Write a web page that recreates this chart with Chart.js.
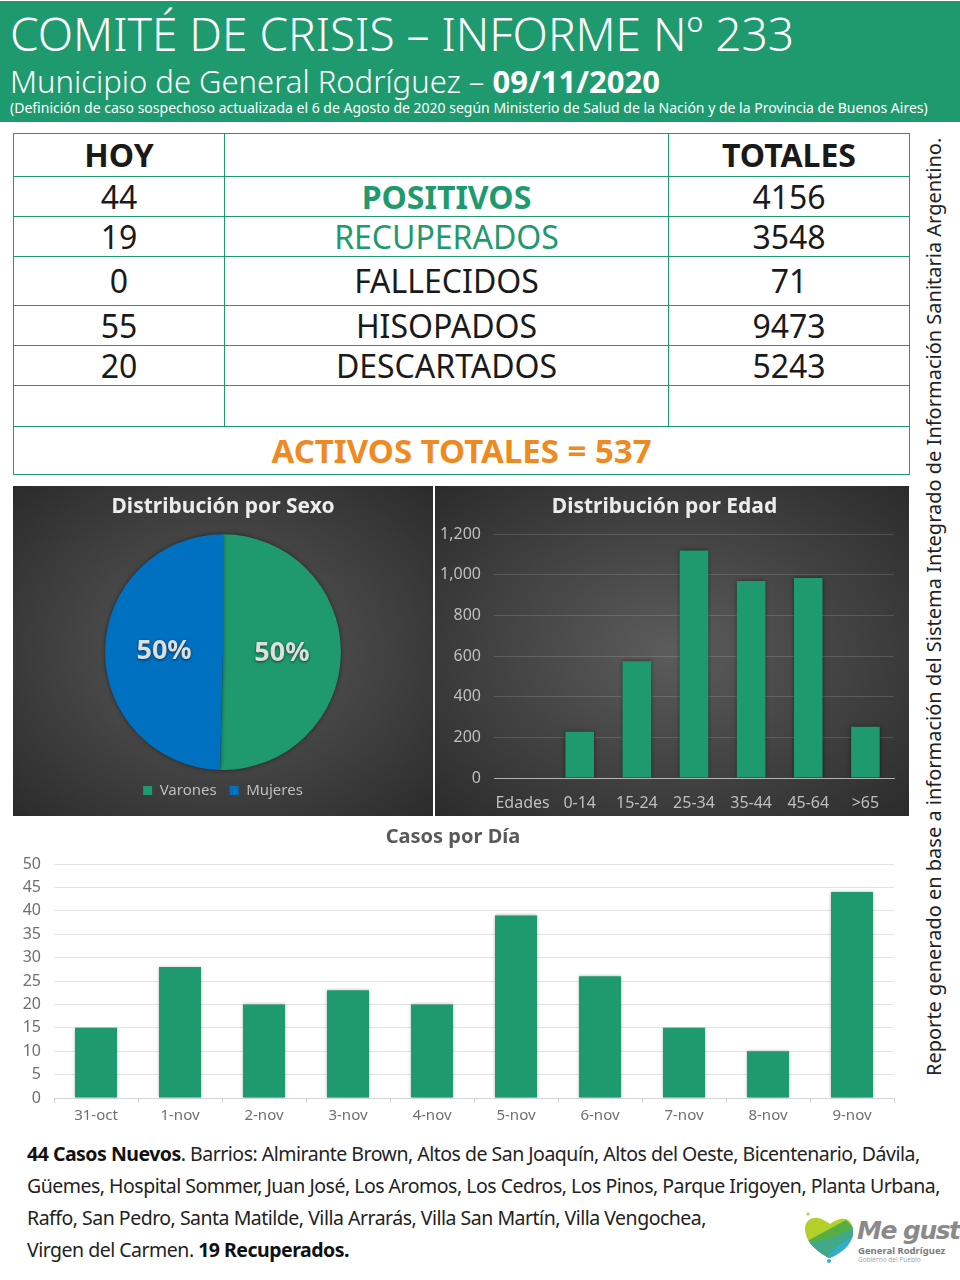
<!DOCTYPE html>
<html lang="es">
<head>
<meta charset="utf-8">
<script src="https://cdn.jsdelivr.net/npm/chart.js@4"></script>
<style>
  html, body { margin: 0; padding: 0; background: #fff; }
  body { position: relative; width: 960px; height: 1280px; overflow: hidden; font-family: "Noto Sans", sans-serif; color: #1a1a1a; }
  .abs { position: absolute; white-space: nowrap; transform-origin: left top; }
  #header { position: absolute; left: 0; top: 1px; width: 960px; height: 121px; background: #1f9a6e; }
  #h1 { left: 10px; top: 2px; font-size: 46px; font-weight: 300; color: #fff; line-height: 62px; }
  #h2 { left: 10px; top: 60px; font-size: 31px; font-weight: 300; color: #fff; line-height: 42px; }
  #h2 b { font-weight: 700; }
  #h3 { left: 10px; top: 98px; font-size: 14px; color: #fff; line-height: 20px; }
  #summary { position: absolute; left: 13px; top: 133px; width: 896px; height: 342px; border-collapse: collapse; table-layout: fixed; }
  #summary td { border: 1px solid #1f9a6e; text-align: center; padding: 0; font-size: 32px; line-height: 30px; color: #1a1a1a; }
  #summary td.head { font-weight: 700; }
  #summary td.pos { font-weight: 700; color: #1f9a6e; }
  #summary td.rec { color: #1f9a6e; }
  #summary td.act { font-weight: 700; color: #ee8a1f; font-size: 33px; }
  canvas { position: absolute; display: block; }
  .panel { background: radial-gradient(ellipse at center, #5c5c5c 0%, #464646 45%, #2b2b2b 100%); }
  #side { position: absolute; left: 921px; top: 150px; height: 926px; line-height: 26px; writing-mode: vertical-rl; transform: rotate(180deg); font-size: 20px; white-space: nowrap; color: #222; }
  #notes div { position: absolute; left: 27px; font-size: 19.5px; line-height: 32px; white-space: nowrap; letter-spacing: -0.5px; color: #222; transform-origin: left top; }
  #notes b { font-weight: 700; color: #111; }
  #logo-title { left: 857px; top: 1216px; font: italic 700 25px "DejaVu Sans", sans-serif; color: #8a8a8a; letter-spacing: -1.5px; }
  #logo-sub { left: 858px; top: 1244px; font-size: 9.5px; font-weight: 700; color: #7a7a7a; }
  #logo-sub2 { left: 858px; top: 1255px; font-size: 6.5px; color: #a5a5a5; }
</style>
</head>
<body>
<div id="header"></div>
<div class="abs" id="h1">COMITÉ DE CRISIS – INFORME Nº 233</div>
<div class="abs" id="h2">Municipio de General Rodríguez – <b>09/11/2020</b></div>
<div class="abs" id="h3">(Definición de caso sospechoso actualizada el 6 de Agosto de 2020 según Ministerio de Salud de la Nación y de la Provincia de Buenos Aires)</div>

<table id="summary"></table>

<canvas id="sexChart" class="panel" width="420" height="330" style="left:13px;top:486px"></canvas>
<canvas id="ageChart" class="panel" width="474" height="330" style="left:435px;top:486px"></canvas>
<canvas id="dayChart" width="898" height="315" style="left:12px;top:820px"></canvas>

<div id="side">Reporte generado en base a información del Sistema Integrado de Información Sanitaria Argentino.</div>

<div id="notes">
  <div style="top:1138px"><b>44 Casos Nuevos</b>. Barrios: Almirante Brown, Altos de San Joaquín, Altos del Oeste, Bicentenario, Dávila,</div>
  <div style="top:1170px">Güemes, Hospital Sommer, Juan José, Los Aromos, Los Cedros, Los Pinos, Parque Irigoyen, Planta Urbana,</div>
  <div style="top:1202px">Raffo, San Pedro, Santa Matilde, Villa Arrarás, Villa San Martín, Villa Vengochea,</div>
  <div style="top:1234px">Virgen del Carmen. <b>19 Recuperados.</b></div>
</div>

<svg style="position:absolute;left:802px;top:1212px" width="54" height="54" viewBox="0 0 54 54">
  <defs>
    <clipPath id="heart"><path d="M27 46 C16 40 3 30 3 17 C3 8 10 5 16 6 C21 7 25 10 28 12 C32 9 38 6 43 7 C49 8 51 14 51 20 C51 32 38 42 27 46 Z"/></clipPath>
  </defs>
  <g clip-path="url(#heart)">
    <rect width="54" height="54" fill="#b5cf2a"/>
    <path d="M0 32 L44 8 L54 18 L54 54 L0 54 Z" fill="#55ae45"/>
    <path d="M0 32 L30 26 L54 14 L54 54 L0 54 Z" fill="#3fa98a"/>
    <path d="M16 54 L36 34 L54 22 L54 54 Z" fill="#2faed0"/>
  </g>
  <circle cx="27" cy="49" r="2" fill="#2faed0"/>
  <circle cx="6" cy="2" r="1.5" fill="#b5cf2a"/>
</svg>
<div class="abs" id="logo-title">Me gusta</div>
<div class="abs" id="logo-sub">General Rodríguez</div>
<div class="abs" id="logo-sub2">Gobierno del Pueblo</div>

<script>
// table rows
const rowHoy = ['HOY', '44', '19', '0', '55', '20', '']
const rowLabels = ['', 'POSITIVOS', 'RECUPERADOS', 'FALLECIDOS', 'HISOPADOS', 'DESCARTADOS', '']
const rowTotales = ['TOTALES', '4156', '3548', '71', '9473', '5243', '']
const activosText = 'ACTIVOS TOTALES = 537'

// charts
const sexLabels = ['Varones', 'Mujeres']
const sexValues = [50.4, 49.6]
const ageLabels = ['Edades', '0-14', '15-24', '25-34', '35-44', '45-64', '>65']
const ageValues = [0, 228, 575, 1120, 970, 985, 252]
const dayLabels = ['31-oct', '1-nov', '2-nov', '3-nov', '4-nov', '5-nov', '6-nov', '7-nov', '8-nov', '9-nov']
const dayValues = [15, 28, 20, 23, 20, 39, 26, 15, 10, 44]

const GREEN = '#1f9a6e'
const BLUE = '#0070c0'
const FONT = '"Noto Sans", sans-serif'

const rowHeights = [43, 40, 40, 49, 40, 40, 41, 48]
const table = document.getElementById('summary')
const colgroup = document.createElement('colgroup')
;[211, 444, 241].forEach(w => {
  const col = document.createElement('col')
  col.style.width = w + 'px'
  colgroup.appendChild(col)
})
table.appendChild(colgroup)
rowHoy.forEach((hoy, i) => {
  const tr = table.insertRow()
  tr.style.height = rowHeights[i] + 'px'
  const cells = [hoy, rowLabels[i], rowTotales[i]]
  cells.forEach((text, c) => {
    const td = tr.insertCell()
    td.textContent = text
    if (i === 0) td.className = 'head'
    if (i === 1 && c === 1) td.className = 'pos'
    if (i === 2 && c === 1) td.className = 'rec'
  })
})
const lastRow = table.insertRow()
lastRow.style.height = rowHeights[7] + 'px'
const lastCell = lastRow.insertCell()
lastCell.colSpan = 3
lastCell.className = 'act'
lastCell.textContent = activosText

Chart.defaults.font.family = FONT
Chart.defaults.animation = false
Chart.defaults.responsive = false

// soft shadow under the marks
const markShadow = {
  id: 'markShadow',
  beforeDatasetsDraw(chart, args, opts) {
    const ctx = chart.ctx
    ctx.save()
    ctx.shadowColor = opts.color
    ctx.shadowBlur = opts.blur
  },
  afterDatasetsDraw(chart) {
    chart.ctx.restore()
  },
}

// percent labels in the slices
const pieLabels = {
  id: 'pieLabels',
  afterDatasetsDraw(chart) {
    const ctx = chart.ctx
    const values = chart.data.datasets[0].data
    chart.getDatasetMeta(0).data.forEach((arc, i) => {
      const p = arc.getCenterPoint()
      ctx.save()
      ctx.font = '700 27px ' + FONT
      ctx.textAlign = 'center'
      ctx.textBaseline = 'middle'
      ctx.shadowColor = 'rgba(0,0,0,0.6)'
      ctx.shadowBlur = 3
      ctx.shadowOffsetY = 1
      ctx.fillStyle = '#dedede'
      ctx.fillText(values[i].toFixed(0) + '%', p.x, p.y)
      ctx.restore()
    })
  },
}

function darkTitle(text) {
  return {
    display: true,
    text,
    color: '#ececec',
    font: { size: 21, weight: '700' },
    padding: { top: 8, bottom: 15 },
  }
}

new Chart(document.getElementById('sexChart'), {
  type: 'pie',
  data: {
    labels: sexLabels,
    datasets: [{ data: sexValues, backgroundColor: [GREEN, BLUE], borderWidth: 0 }],
  },
  plugins: [markShadow, pieLabels],
  options: {
    layout: { padding: { bottom: 8 } },
    plugins: {
      markShadow: { color: 'rgba(0,0,0,0.5)', blur: 4 },
      tooltip: { enabled: false },
      title: darkTitle('Distribución por Sexo'),
      legend: {
        position: 'bottom',
        labels: {
          color: '#bfbfbf',
          boxWidth: 9,
          boxHeight: 9,
          padding: 13,
          font: { size: 15 },
        },
      },
    },
  },
})

new Chart(document.getElementById('ageChart'), {
  type: 'bar',
  data: {
    labels: ageLabels,
    datasets: [{ data: ageValues, backgroundColor: GREEN, borderWidth: 0, categoryPercentage: 0.5, barPercentage: 1 }],
  },
  plugins: [markShadow],
  options: {
    layout: { padding: { right: 15 } },
    plugins: {
      markShadow: { color: 'rgba(0,0,0,0.5)', blur: 4 },
      tooltip: { enabled: false },
      legend: { display: false },
      title: darkTitle('Distribución por Edad'),
    },
    scales: {
      x: {
        grid: { display: false },
        border: { color: 'rgba(255,255,255,0.55)' },
        ticks: { color: '#bfbfbf', font: { size: 16 }, padding: 8, maxRotation: 0, autoSkip: false },
        afterFit: s => { s.height = 38 },
      },
      y: {
        min: 0,
        max: 1200,
        grid: { color: 'rgba(255,255,255,0.14)', drawTicks: false },
        border: { display: false },
        ticks: { color: '#bfbfbf', font: { size: 16 }, stepSize: 200, padding: 13 },
        afterFit: s => { s.width = 59 },
      },
    },
  },
})

new Chart(document.getElementById('dayChart'), {
  type: 'bar',
  data: {
    labels: dayLabels,
    datasets: [{ data: dayValues, backgroundColor: GREEN, borderWidth: 0, categoryPercentage: 0.5, barPercentage: 1 }],
  },
  plugins: [markShadow],
  options: {
    layout: { padding: { right: 16 } },
    plugins: {
      markShadow: { color: 'rgba(0,0,0,0.3)', blur: 3 },
      tooltip: { enabled: false },
      legend: { display: false },
      title: {
        display: true,
        text: 'Casos por Día',
        color: '#595959',
        font: { size: 20, weight: '700' },
        padding: { top: 5, bottom: 15 },
      },
    },
    scales: {
      x: {
        grid: { drawOnChartArea: false, color: '#d4d4d4', tickLength: 5 },
        border: { color: '#d4d4d4' },
        ticks: { color: '#6f6f6f', font: { size: 15 }, padding: 4, maxRotation: 0, autoSkip: false },
        afterFit: s => { s.height = 37 },
      },
      y: {
        min: 0,
        max: 50,
        grid: { color: '#e4e4e4', drawTicks: false },
        border: { display: false },
        ticks: { color: '#6f6f6f', font: { size: 16 }, stepSize: 5, padding: 13 },
        afterFit: s => { s.width = 42 },
      },
    },
  },
})
</script>
</body>
</html>
